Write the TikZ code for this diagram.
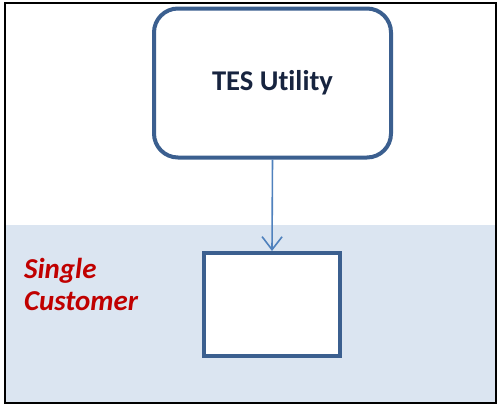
\documentclass[tikz,border=0pt]{standalone}
\usepackage{fontspec}
\setmainfont[Ligatures=NoCommon]{Carlito}
\usetikzlibrary{arrows.meta}
\definecolor{bandblue}{HTML}{DBE5F1}
\definecolor{boxline}{HTML}{3B5F8F}
\definecolor{arrowblue}{HTML}{4F81BD}
\definecolor{titlenavy}{HTML}{17243F}
\definecolor{labelred}{HTML}{C00000}
\tikzset{
  framebox/.style={draw=black, line width=2.5bp},
  bandarea/.style={fill=bandblue, draw=none},
  utilbox/.style={draw=boxline, line width=4bp, rounded corners=24bp, fill=white,
    minimum width=237bp, minimum height=149bp, inner sep=0pt, outer sep=0pt,
    text=titlenavy, font=\fontsize{28.7}{34}\selectfont\bfseries},
  custbox/.style={draw=boxline, line width=4bp, fill=white,
    minimum width=136bp, minimum height=103bp, inner sep=0pt, outer sep=2bp},
  linkarrow/.style={draw=arrowblue, line width=1.6bp,
    -{Straight Barb[length=13bp, width=20bp, line width=1.6bp]}},
  zonelabel/.style={text=labelred, align=left, inner sep=0pt,
    font=\fontsize{29}{32}\selectfont\bfseries\itshape}
}
\begin{document}
\begin{tikzpicture}[x=1bp, y=-1bp]
  \useasboundingbox (0,0) rectangle (498,406);
  % shaded customer zone
  \path[bandarea] (5,225) rectangle (496,403);
  % outer frame
  \draw[framebox] (5,3) rectangle (496,403);
  % utility box and customer box
  \node[utilbox] (tes) at (272.5,83) {TES Utility};
  \node[custbox] (cust) at (272,304.5) {};
  % zone caption
  \node[zonelabel, anchor=north west] (lbl) at (24,258) {Single\\Customer};
  % connector
  \draw[linkarrow] (tes.south) ++(0,2) -- (cust.north);
\end{tikzpicture}
\end{document}
